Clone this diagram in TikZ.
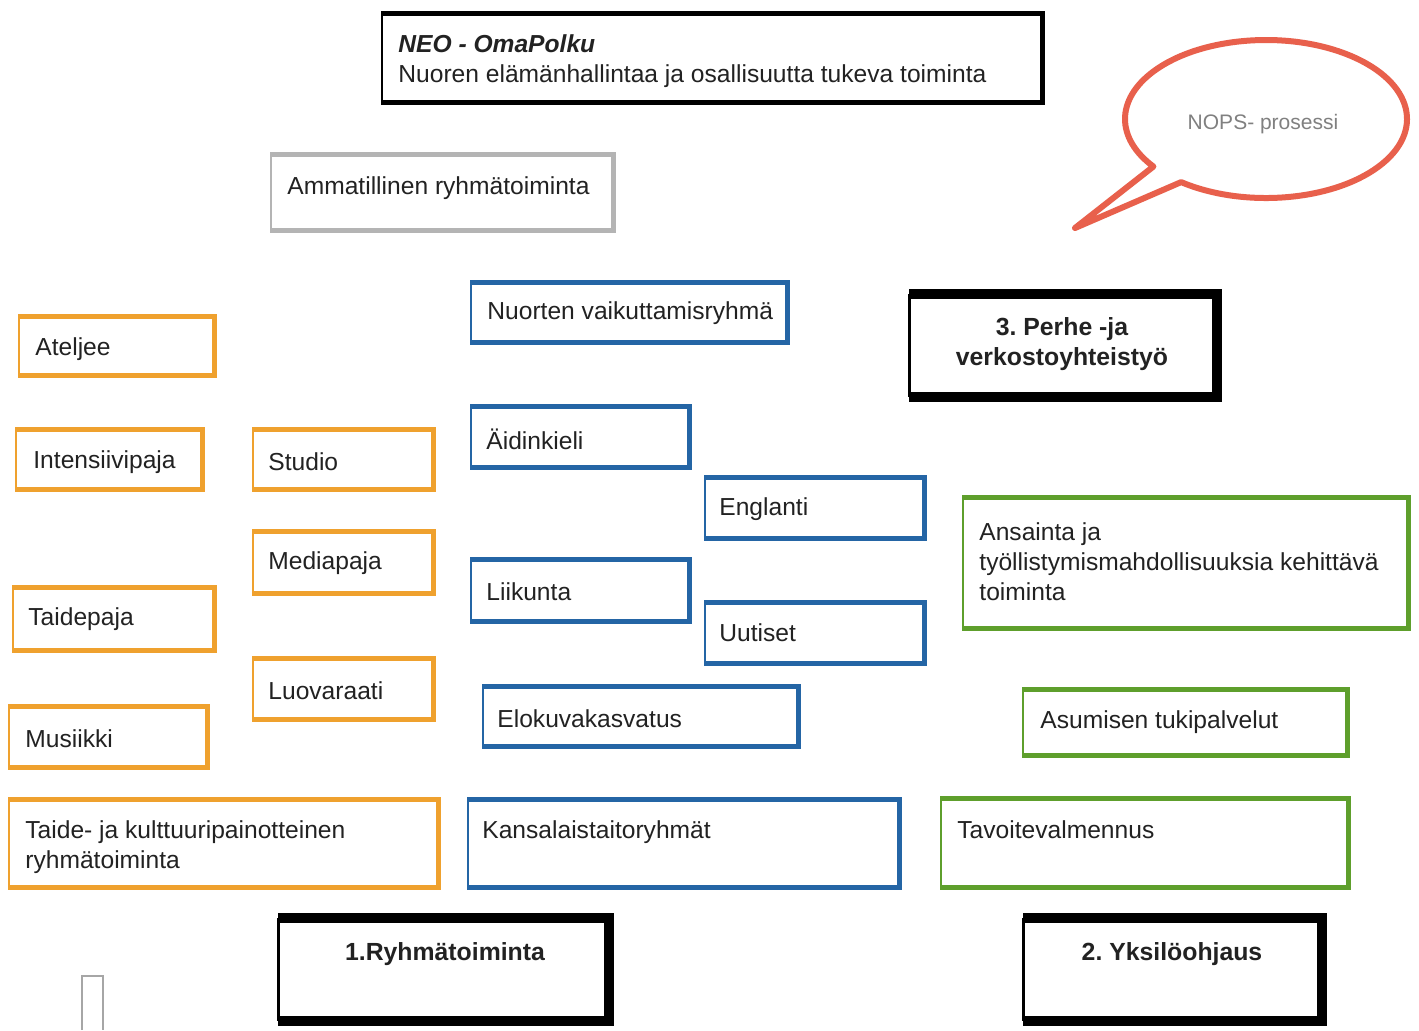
\documentclass[tikz,border=0pt]{standalone}
\usepackage{fontspec}
\setmainfont{Liberation Sans}
\frenchspacing
\usetikzlibrary{fit,calc}
\definecolor{orangec}{HTML}{EFA12E}
\definecolor{bluec}{HTML}{2465A5}
\definecolor{greenc}{HTML}{5E9F2C}
\definecolor{grayc}{HTML}{B4B4B4}
\definecolor{redc}{HTML}{E8604C}
\definecolor{textc}{HTML}{222222}
\begin{document}
\begin{tikzpicture}[x=0.5pt,y=-0.5pt,
  fr/.style={draw=#1, line width=0.8pt, fill=white, inner sep=0pt},
  edge/.style={draw=#1, line width=2.6pt, line join=miter},
  heavy/.style={draw=black, line width=4.8pt, line join=miter},
  txt/.style={anchor=west, inner sep=0pt, font=\fontsize{12.3}{15}\selectfont\frenchspacing, text=textc, align=left},
  btxt/.style={inner sep=0pt, font=\fontsize{12.4}{15}\selectfont\bfseries\frenchspacing, text=textc, align=center}]
\useasboundingbox (0,0) rectangle (1419,1030);
\fill[white] (0,0) rectangle (1419,1030);

% frames
\node[fr=black, fit={(382,14)(1042,102)}] (neo) {};
\node[fr=grayc, fit={(271,155)(613,230)}] (ammat) {};
\node[fr=bluec, fit={(471,283)(787,342)}] (nuorten) {};
\node[fr=orangec, fit={(19,317)(214,375)}] (ateljee) {};
\node[fr=orangec, fit={(16,430)(202,489)}] (intens) {};
\node[fr=orangec, fit={(253,430)(433,489)}] (studio) {};
\node[fr=bluec, fit={(471,407)(689,467)}] (aidin) {};
\node[fr=bluec, fit={(705,478)(924,538)}] (englanti) {};
\node[fr=greenc, fit={(963,498)(1408,628)}] (ansainta) {};
\node[fr=orangec, fit={(253,532)(433,593)}] (media) {};
\node[fr=orangec, fit={(13,588)(214,650)}] (taidepaja) {};
\node[fr=bluec, fit={(471,560)(689,621)}] (liikunta) {};
\node[fr=bluec, fit={(705,603)(924,663)}] (uutiset) {};
\node[fr=orangec, fit={(253,659)(433,719)}] (luova) {};
\node[fr=bluec, fit={(483,687)(798,746)}] (elokuva) {};
\node[fr=greenc, fit={(1023,690)(1347,755)}] (asumisen) {};
\node[fr=orangec, fit={(9,707)(207,767)}] (musiikki) {};
\node[fr=orangec, fit={(9,800)(438,887)}] (taide) {};
\node[fr=bluec, fit={(468,800)(899,887)}] (kansal) {};
\node[fr=greenc, fit={(941,799)(1348,887)}] (tavoite) {};
\node[fr=black, fit={(910,295)(1216,396)}] (perhe) {};
\node[fr=black, fit={(279,919)(608,1020)}] (ryhma) {};
\node[fr=black, fit={(1024,919)(1321,1020)}] (yksilo) {};

% thick brush edges
\foreach \n/\c in {neo/black, ammat/grayc, nuorten/bluec, ateljee/orangec, intens/orangec,
  studio/orangec, aidin/bluec, englanti/bluec, ansainta/greenc, media/orangec,
  taidepaja/orangec, liikunta/bluec, uutiset/bluec, luova/orangec, elokuva/bluec,
  asumisen/greenc, musiikki/orangec, taide/orangec, kansal/bluec, tavoite/greenc}
  \draw[edge=\c] (\n.north west) -- (\n.north east) -- (\n.south east) -- (\n.south west);
\foreach \n in {perhe, ryhma, yksilo}{
  \draw[heavy] (\n.north west) -- (\n.north east) -- (\n.south east) -- (\n.south west);
  \draw[black, line width=1.6pt] (\n.north west) -- (\n.south west);
}

% texts
\node[txt] (tneo) at (398,61) {\textbf{\textit{NEO - OmaPolku}}\\Nuoren elämänhallintaa ja osallisuutta tukeva toiminta};
\node[txt] (tammat) at (287,188) {Ammatillinen ryhmätoiminta};
\node[txt] (tnuorten) at (487,313) {Nuorten vaikuttamisryhmä};
\node[txt] (tateljee) at (35,349) {Ateljee};
\node[txt] (tintens) at (33,462) {Intensiivipaja};
\node[txt] (tstudio) at (268,462) {Studio};
\node[txt] (taidin) at (486,439) {Äidinkieli};
\node[txt] (tenglanti) at (719,509) {Englanti};
\node[txt] (tansainta) at (979,562) {Ansainta ja\\työllistymismahdollisuuksia kehittävä\\toiminta};
\node[txt] (tmedia) at (268,563) {Mediapaja};
\node[txt] (ttaidepaja) at (28,619) {Taidepaja};
\node[txt] (tliikunta) at (486,592) {Liikunta};
\node[txt] (tuutiset) at (719,633) {Uutiset};
\node[txt] (tluova) at (268,691) {Luovaraati};
\node[txt] (telokuva) at (497,719) {Elokuvakasvatus};
\node[txt] (tasumisen) at (1040,722) {Asumisen tukipalvelut};
\node[txt] (tmusiikki) at (25,739) {Musiikki};
\node[txt] (ttaide) at (25,847) {Taide- ja kulttuuripainotteinen\\ryhmätoiminta};
\node[txt] (tkansal) at (482,832) {Kansalaistaitoryhmät};
\node[txt] (ttavoite) at (957,830) {Tavoitevalmennus};
\node[btxt] (tperhe) at (1062,344) {3. Perhe -ja\\verkostoyhteistyö};
\node[btxt] (tryhma) at (445,954) {1.Ryhmätoiminta};
\node[btxt] (tyksilo) at (1172,954) {2. Yksilöohjaus};

% speech bubble
\draw[redc, line width=3pt, line join=round, fill=white]
  (1075,228) -- ($(1266,119)+(127:141 and 79)$) coordinate (bj)
  arc[start angle=127, end angle=-217, x radius=141, y radius=79] -- cycle;
\node[inner sep=0pt, font=\fontsize{10.5}{12}\selectfont, text=gray] (nops) at (1263,124) {NOPS- prosessi};

% small gray bracket
\draw[gray!70, line width=1pt] (82,1030) -- (82,976) -- (103,976) -- (103,1030);
\end{tikzpicture}
\end{document}
